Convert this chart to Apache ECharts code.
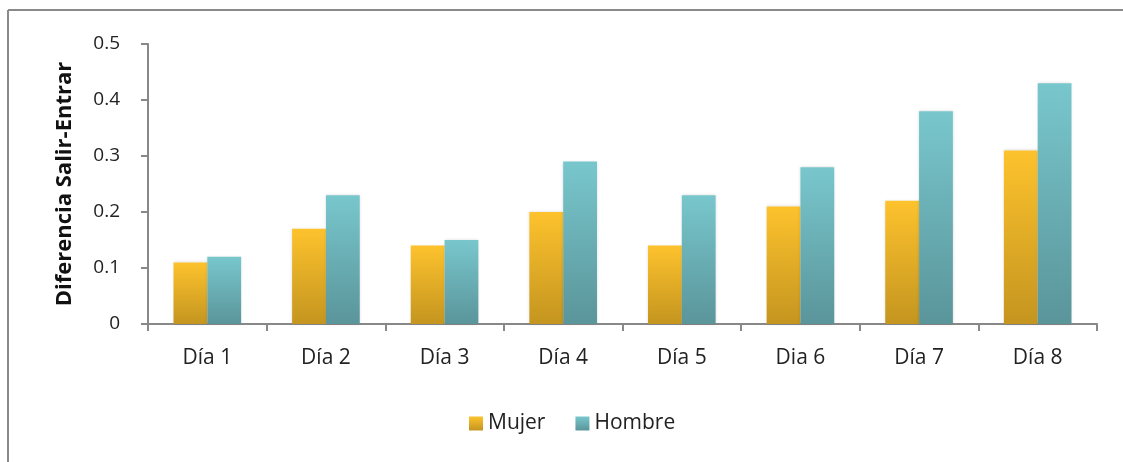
<!DOCTYPE html>
<html>
<head>
<meta charset="utf-8">
<script src="https://cdn.jsdelivr.net/npm/echarts@6/dist/echarts.min.js"></script>
<style>html,body{margin:0;padding:0;background:#fff}#c{width:1123px;height:462px}</style>
</head>
<body>
<div id="c"></div>
<script>
var categories = ['Día 1','Día 2','Día 3','Día 4','Día 5','Dia 6','Día 7','Día 8'];
var mujer = [0.11, 0.17, 0.14, 0.20, 0.14, 0.21, 0.22, 0.31];
var hombre = [0.12, 0.23, 0.15, 0.29, 0.23, 0.28, 0.38, 0.43];
var yTicks = [0, 0.1, 0.2, 0.3, 0.4, 0.5];

var FONT = '"Open Sans", Lato, sans-serif';
var chart = echarts.init(document.getElementById('c'));
function grad(top, bottom){
  return new echarts.graphic.LinearGradient(0,0,0,1,[{offset:0,color:top},{offset:1,color:bottom}]);
}
var mujerColor = grad('#fdc22d','#c4951f');
var hombreColor = grad('#78c7cd','#5a959a');
chart.setOption({
  animation:false,
  grid:{left:148,right:26,top:44,bottom:138,containLabel:false},
  graphic:[
    {type:'line',shape:{x1:8,y1:10,x2:1123,y2:10},style:{stroke:'#8a8a8a',lineWidth:2}},
    {type:'line',shape:{x1:8,y1:10,x2:8,y2:462},style:{stroke:'#8a8a8a',lineWidth:2}}
  ],
  legend:{
    data:[{name:'Mujer',itemStyle:{color:mujerColor}},{name:'Hombre',itemStyle:{color:hombreColor}}],
    left:464, top:408, itemWidth:14, itemHeight:14, itemGap:30,
    icon:'rect',
    textStyle:{fontFamily:FONT,fontSize:21,color:'#222',padding:[0,0,0,0]}
  },
  xAxis:{
    type:'category', data:categories,
    axisLine:{lineStyle:{color:'#888',width:2}},
    axisTick:{show:true,length:7,lineStyle:{color:'#888',width:2}},
    axisLabel:{fontFamily:FONT,fontSize:21,color:'#222',margin:24}
  },
  yAxis:{
    type:'value', min:0, max:0.5, interval:0.1,
    name:'Diferencia Salir-Entrar', nameLocation:'middle', nameGap:72,
    nameTextStyle:{fontFamily:FONT,fontSize:22,fontWeight:'bold',color:'#111'},
    axisLine:{show:true,lineStyle:{color:'#888',width:2}},
    axisTick:{show:true,length:7,lineStyle:{color:'#888',width:2}},
    splitLine:{show:false},
    axisLabel:{fontFamily:FONT,fontSize:19,color:'#222',margin:28,
      formatter:function(v){ var r=Math.round(v*10)/10; return yTicks.indexOf(r)>=0 ? (r===0?'0':String(r)) : ''; }}
  },
  series:[
    {name:'Mujer',type:'bar',data:mujer,barGap:'0%',barCategoryGap:'43%',itemStyle:{color:mujerColor,shadowColor:'rgba(0,0,0,0.15)',shadowBlur:3}},
    {name:'Hombre',type:'bar',data:hombre,barGap:'0%',barCategoryGap:'43%',itemStyle:{color:hombreColor,shadowColor:'rgba(0,0,0,0.15)',shadowBlur:3}}
  ]
});
</script>
</body>
</html>
